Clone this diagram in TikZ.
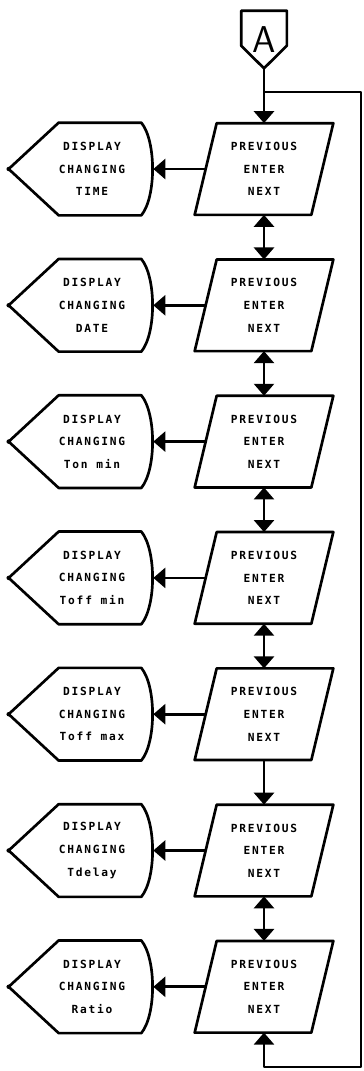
\documentclass[tikz,border=0pt]{standalone}
\usepackage{fontspec}
\newfontfamily\plotfont[LetterSpace=16,BoldFont={DejaVu Sans Mono Bold}]{DejaVu Sans Mono}
\usetikzlibrary{arrows.meta,calc}
\begin{document}
\begin{tikzpicture}[x=0.75pt,y=-0.75pt, line width=2pt, line join=round,
  every node/.style={inner sep=0pt},
  lbl/.style={font=\plotfont\bfseries\fontsize{8.4pt}{17pt}\selectfont, align=center},
  iobox/.style={lbl, minimum width=85.5pt, minimum height=66.75pt},
  dispbox/.style={lbl, minimum width=90pt, minimum height=67.5pt},
  conn/.style={minimum width=32.25pt, minimum height=41.25pt,
     font=\sffamily\fontsize{28pt}{28pt}\selectfont},
  tipend/.style={-{Triangle[width=15pt,length=9pt]}},
  tipboth/.style={{Triangle[width=15pt,length=9pt]}-{Triangle[width=15pt,length=9pt]}}
]
\useasboundingbox (0,0) rectangle (364,1071);

% off-page connector
\node[conn] (A) at (264,39.5) {A};
\draw ($(A.north west)$) -- (A.north east) -- ($(A.north east)+(0,35)$) -- (A.south)
      -- ($(A.north west)+(0,35)$) -- cycle;

% rows
\foreach \i/\t in {1/TIME,2/DATE,3/Ton min,4/Toff min,5/Toff max,6/Tdelay,7/Ratio}{
  \pgfmathsetmacro{\cy}{169+136.3*(\i-1)}
  \node[iobox] (p\i) at (264,\cy) {PREVIOUS\\ENTER\\NEXT};
  \draw ($(p\i.north west)+(11,0)$) -- ($(p\i.north east)+(11,0)$)
     -- ($(p\i.south east)+(-11,0)$) -- ($(p\i.south west)+(-11,0)$) -- cycle;
  \node[dispbox] (d\i) at (92,\cy) {DISPLAY\\CHANGING\\\t};
  \draw ($(d\i.west)+(-22,0)$) -- ($(d\i.north west)+(28,0)$)
     -- ($(d\i.north east)+(-12,0)$)
     .. controls ($(d\i.east)+(3,-28)$) and ($(d\i.east)+(3,28)$) .. ($(d\i.south east)+(-12,0)$)
     -- ($(d\i.south west)+(28,0)$) -- cycle;
  \fill ($(d\i.west)+(-22,0)$) circle (2.2);
  \draw[tipend] (p\i.west) -- (d\i.east);
}

% vertical connectors
\coordinate (j) at (264,92);
\coordinate (r1) at (361,92);
\coordinate (r2) at (361,1067);
\coordinate (b) at (264,1067);
\draw (A.south) -- (j);
\draw[tipend] (j) -- (p1.north);
\draw[tipboth] (p1.south) -- (p2.north);
\draw[tipboth] (p2.south) -- (p3.north);
\draw[tipboth] (p3.south) -- (p4.north);
\draw[tipboth] (p4.south) -- (p5.north);
\draw[tipend] (p5.south) -- (p6.north);
\draw[tipboth] (p6.south) -- (p7.north);
\draw[tipend] (j) -- (r1) -- (r2) -- (b) -- (p7.south);
\end{tikzpicture}
\end{document}
